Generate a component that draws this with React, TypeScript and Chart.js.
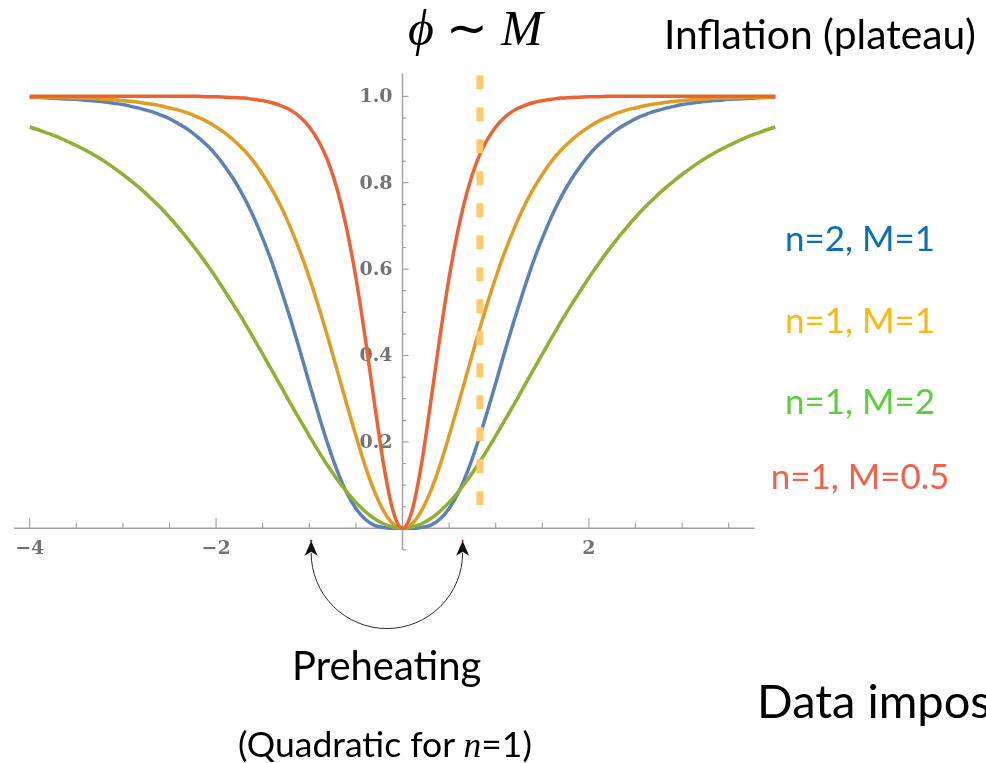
import React, { useEffect, useRef } from "react";
import { Chart, registerables } from "chart.js";

Chart.register(...registerables);

// ---- data ----
const xValues = [
  -4, -3.9, -3.8, -3.7, -3.6, -3.5, -3.4, -3.3, -3.2, -3.1,
  -3, -2.9, -2.8, -2.7, -2.6, -2.5, -2.4, -2.3, -2.2, -2.1,
  -2, -1.9, -1.8, -1.7, -1.6, -1.5, -1.4, -1.3, -1.2, -1.1,
  -1, -0.9, -0.8, -0.7, -0.6, -0.5, -0.4, -0.3, -0.2, -0.1,
  0,
  0.1, 0.2, 0.3, 0.4, 0.5, 0.6, 0.7, 0.8, 0.9, 1,
  1.1, 1.2, 1.3, 1.4, 1.5, 1.6, 1.7, 1.8, 1.9, 2,
  2.1, 2.2, 2.3, 2.4, 2.5, 2.6, 2.7, 2.8, 2.9, 3,
  3.1, 3.2, 3.3, 3.4, 3.5, 3.6, 3.7, 3.8, 3.9, 4,
];

const blueN2M1 = [
  0.997, 0.997, 0.996, 0.995, 0.994, 0.993, 0.991, 0.989, 0.987, 0.984,
  0.981, 0.976, 0.971, 0.965, 0.957, 0.948, 0.936, 0.923, 0.906, 0.887,
  0.864, 0.836, 0.804, 0.766, 0.722, 0.671, 0.615, 0.551, 0.483, 0.411,
  0.336, 0.263, 0.194, 0.133, 0.083, 0.046, 0.021, 0.007, 0.002, 0.0,
  0,
  0.0, 0.002, 0.007, 0.021, 0.046, 0.083, 0.133, 0.194, 0.263, 0.336,
  0.411, 0.483, 0.551, 0.615, 0.671, 0.722, 0.766, 0.804, 0.836, 0.864,
  0.887, 0.906, 0.923, 0.936, 0.948, 0.957, 0.965, 0.971, 0.976, 0.981,
  0.984, 0.987, 0.989, 0.991, 0.993, 0.994, 0.995, 0.996, 0.997, 0.997,
];

const orangeN1M1 = [
  0.999, 0.998, 0.998, 0.998, 0.997, 0.996, 0.996, 0.995, 0.993, 0.992,
  0.99, 0.988, 0.985, 0.982, 0.978, 0.973, 0.968, 0.961, 0.952, 0.942,
  0.929, 0.914, 0.896, 0.875, 0.85, 0.819, 0.784, 0.743, 0.695, 0.641,
  0.58, 0.513, 0.441, 0.365, 0.288, 0.214, 0.144, 0.085, 0.039, 0.01,
  0,
  0.01, 0.039, 0.085, 0.144, 0.214, 0.288, 0.365, 0.441, 0.513, 0.58,
  0.641, 0.695, 0.743, 0.784, 0.819, 0.85, 0.875, 0.896, 0.914, 0.929,
  0.942, 0.952, 0.961, 0.968, 0.973, 0.978, 0.982, 0.985, 0.988, 0.99,
  0.992, 0.993, 0.995, 0.996, 0.996, 0.997, 0.998, 0.998, 0.998, 0.999,
];

const greenN1M2 = [
  0.929, 0.922, 0.914, 0.906, 0.896, 0.886, 0.875, 0.863, 0.85, 0.835,
  0.819, 0.802, 0.784, 0.764, 0.743, 0.72, 0.695, 0.669, 0.641, 0.611,
  0.58, 0.547, 0.513, 0.478, 0.441, 0.403, 0.365, 0.327, 0.288, 0.251,
  0.214, 0.178, 0.144, 0.113, 0.085, 0.06, 0.039, 0.022, 0.01, 0.003,
  0,
  0.003, 0.01, 0.022, 0.039, 0.06, 0.085, 0.113, 0.144, 0.178, 0.214,
  0.251, 0.288, 0.327, 0.365, 0.403, 0.441, 0.478, 0.513, 0.547, 0.58,
  0.611, 0.641, 0.669, 0.695, 0.72, 0.743, 0.764, 0.784, 0.802, 0.819,
  0.835, 0.85, 0.863, 0.875, 0.886, 0.896, 0.906, 0.914, 0.922, 0.929,
];

const redN1M05 = [
  1, 1, 1, 1, 1, 1, 1, 1, 1, 1,
  1, 1, 1, 1, 1, 1, 1, 1, 1, 0.999,
  0.999, 0.998, 0.997, 0.996, 0.993, 0.99, 0.985, 0.978, 0.968, 0.952,
  0.929, 0.896, 0.85, 0.784, 0.695, 0.58, 0.441, 0.288, 0.144, 0.039,
  0,
  0.039, 0.144, 0.288, 0.441, 0.58, 0.695, 0.784, 0.85, 0.896, 0.929,
  0.952, 0.968, 0.978, 0.985, 0.99, 0.993, 0.996, 0.997, 0.998, 0.999,
  0.999, 1, 1, 1, 1, 1, 1, 1, 1, 1,
  1, 1, 1, 1, 1, 1, 1, 1, 1, 1,
];

const seriesLabels = ["n=2, M=1", "n=1, M=1", "n=1, M=2", "n=1, M=0.5"];

// ---- axes / ticks ----
const xMajorTicks = [-4, -2, 2];
const xTickLabels = ["\u22124", "\u22122", "2"];
const xMinorTicks = [-3.5, -3, -2.5, -1.5, -1, -0.5, 0.5, 1, 1.5, 2.5, 3, 3.5];
const yMajorTicks = [0.2, 0.4, 0.6, 0.8, 1.0];
const yTickLabels = ["0.2", "0.4", "0.6", "0.8", "1.0"];
const yMinorTicks = [-0.05, 0.05, 0.1, 0.15, 0.25, 0.3, 0.35, 0.45, 0.5, 0.55, 0.65, 0.7, 0.75, 0.85, 0.9, 0.95];
const xAxisExtent = [-4.17, 3.78];
const yAxisExtent = [-0.05, 1.053];

// annotation positions (data units)
const dashedLineX = 0.83;
const dashedLineY = [1.049, 0.054];
const arrowFromX = -0.98;
const arrowToX = 0.645;
const arrowTipY = -0.029;

const AXIS_COLOR = "#a3a3a3";
const LINE_COLORS = ["#5E81B5", "#E19C24", "#8FB032", "#EB6235"];

const mmaPlugin = {
  id: "mmaAxes",
  beforeDatasetsDraw(chart: any) {
    const ctx = chart.ctx;
    const X = (v: number) => chart.scales.x.getPixelForValue(v);
    const Y = (v: number) => chart.scales.y.getPixelForValue(v);
    ctx.save();
    ctx.strokeStyle = AXIS_COLOR;
    ctx.lineWidth = 1.5;
    ctx.beginPath();
    ctx.moveTo(X(xAxisExtent[0]), Y(0));
    ctx.lineTo(X(xAxisExtent[1]), Y(0));
    ctx.moveTo(X(0), Y(yAxisExtent[0]));
    ctx.lineTo(X(0), Y(yAxisExtent[1]));
    ctx.stroke();
    ctx.lineWidth = 1.2;
    ctx.beginPath();
    xMajorTicks.forEach((v) => {
      ctx.moveTo(X(v), Y(0));
      ctx.lineTo(X(v), Y(0) - 10);
    });
    xMinorTicks.forEach((v) => {
      ctx.moveTo(X(v), Y(0));
      ctx.lineTo(X(v), Y(0) - 5.5);
    });
    yMajorTicks.forEach((v) => {
      ctx.moveTo(X(0), Y(v));
      ctx.lineTo(X(0) + 6, Y(v));
    });
    yMinorTicks.forEach((v) => {
      ctx.moveTo(X(0), Y(v));
      ctx.lineTo(X(0) + 3.5, Y(v));
    });
    ctx.stroke();

    ctx.fillStyle = "#737373";
    ctx.font = "bold 19px 'DejaVu Serif'";
    ctx.textAlign = "center";
    ctx.textBaseline = "middle";
    xMajorTicks.forEach((v, i) => {
      ctx.fillText(xTickLabels[i], X(v), Y(0) + 21);
    });
    ctx.textAlign = "right";
    yMajorTicks.forEach((v, i) => {
      ctx.fillText(yTickLabels[i], X(0) - 10, Y(v) + 1);
    });
    ctx.restore();
  },
  afterDatasetsDraw(chart: any) {
    const ctx = chart.ctx;
    const X = (v: number) => chart.scales.x.getPixelForValue(v);
    const Y = (v: number) => chart.scales.y.getPixelForValue(v);
    ctx.save();
    // dashed vertical line
    ctx.strokeStyle = "#FDCA6E";
    ctx.lineWidth = 7;
    ctx.setLineDash([14, 18]);
    ctx.lineCap = "butt";
    ctx.beginPath();
    ctx.moveTo(X(dashedLineX), Y(dashedLineY[0]));
    ctx.lineTo(X(dashedLineX), Y(dashedLineY[1]));
    ctx.stroke();
    ctx.setLineDash([]);

    // arc arrow
    const lx = X(arrowFromX);
    const rx = X(arrowToX);
    const ty = Y(arrowTipY);
    const cx = (lx + rx) / 2;
    const r = (rx - lx) / 2;
    const cy = ty + 12;
    ctx.strokeStyle = "#2a2a2a";
    ctx.lineWidth = 1;
    ctx.beginPath();
    ctx.arc(cx, cy, r, 0, Math.PI, false);
    ctx.stroke();
    const head = (x: number) => {
      ctx.beginPath();
      ctx.moveTo(x, ty);
      ctx.lineTo(x - 6.5, ty + 15);
      ctx.lineTo(x, ty + 11);
      ctx.lineTo(x + 6.5, ty + 15);
      ctx.closePath();
      ctx.fillStyle = "#111";
      ctx.fill();
    };
    head(lx);
    head(rx);
    ctx.fillStyle = "#2233dd";
    ctx.fillRect(lx - 1, ty - 1, 2, 2);
    ctx.fillStyle = "#dd2222";
    ctx.fillRect(rx - 1, ty - 1, 2, 2);
    ctx.restore();
  },
};

const gill = "Lato, 'Open Sans', sans-serif";

function Label(props: {
  text: React.ReactNode;
  left: number;
  top: number;
  size: number;
  color?: string;
  width?: number;
  align?: "left" | "center";
  family?: string;
}) {
  const { text, left, top, size, color = "#000", width, align = "left", family = gill } = props;
  return (
    <div
      style={{
        position: "absolute",
        left,
        top,
        width,
        textAlign: align,
        fontFamily: family,
        fontSize: size,
        lineHeight: 1,
        color,
        whiteSpace: "nowrap",
      }}
    >
      {text}
    </div>
  );
}

export default function App() {
  const ref = useRef<HTMLCanvasElement | null>(null);
  useEffect(() => {
    if (!ref.current) return;
    const series = [blueN2M1, orangeN1M1, greenN1M2, redN1M05];
    const chart = new Chart(ref.current, {
      type: "line",
      data: {
        datasets: series.map((vals, i) => ({
          label: seriesLabels[i],
          data: xValues.map((x, j) => ({ x, y: vals[j] })),
          borderColor: LINE_COLORS[i],
          borderWidth: 3.5,
          pointRadius: 0,
          fill: false,
          cubicInterpolationMode: "monotone" as const,
          order: 4 - i,
        })),
      },
      options: {
        animation: false,
        responsive: false,
        devicePixelRatio: 1,
        events: [],
        layout: { padding: { left: 11.06, right: 206.04, top: 70.38, bottom: 208.78 } },
        plugins: { legend: { display: false }, tooltip: { enabled: false } },
        scales: {
          x: { type: "linear", min: -4.2, max: 4.05, display: false },
          y: { type: "linear", min: -0.06, max: 1.06, display: false },
        },
      },
      plugins: [mmaPlugin],
    });
    return () => chart.destroy();
  }, []);

  return (
    <div
      style={{
        position: "absolute",
        left: 0,
        top: 0,
        width: 986,
        height: 763,
        overflow: "hidden",
        background: "#fff",
      }}
    >
      <canvas ref={ref} width={986} height={763} style={{ display: "block", position: "absolute", left: 0, top: 0 }} />
      <Label
        text={
          <span>
            <i>ϕ</i>
            <span style={{ fontStyle: "normal" }}> ∼ </span>
            <i>M</i>
          </span>
        }
        left={408}
        top={3}
        size={50}
        family="'Liberation Serif', serif"
      />
      <Label text="Inflation (plateau)" left={664} top={13.5} size={40.8} />
      <Label text={seriesLabels[0]} left={710} width={300} align="center" top={220} size={35} color="#0C6FB5" />
      <Label text={seriesLabels[1]} left={710} width={300} align="center" top={302} size={35} color="#FBB812" />
      <Label text={seriesLabels[2]} left={710} width={300} align="center" top={383} size={35} color="#5CCF3B" />
      <Label text={seriesLabels[3]} left={710} width={300} align="center" top={457.5} size={35} color="#F4614B" />
      <Label text="Preheating" left={236.7} width={300} align="center" top={644.5} size={40} />
      <Label
        text={
          <span>
            (Quadratic for <i style={{ fontFamily: "'Liberation Serif', serif" }}>n</i>=1)
          </span>
        }
        left={135}
        width={500}
        align="center"
        top={726}
        size={35.5}
      />
      <div
        style={{
          position: "absolute",
          left: 757,
          top: 677,
          width: 400,
          fontFamily: gill,
          fontSize: 47,
          lineHeight: 1,
          color: "#000",
          whiteSpace: "nowrap",
        }}
      >
        Data impos
      </div>
    </div>
  );
}
